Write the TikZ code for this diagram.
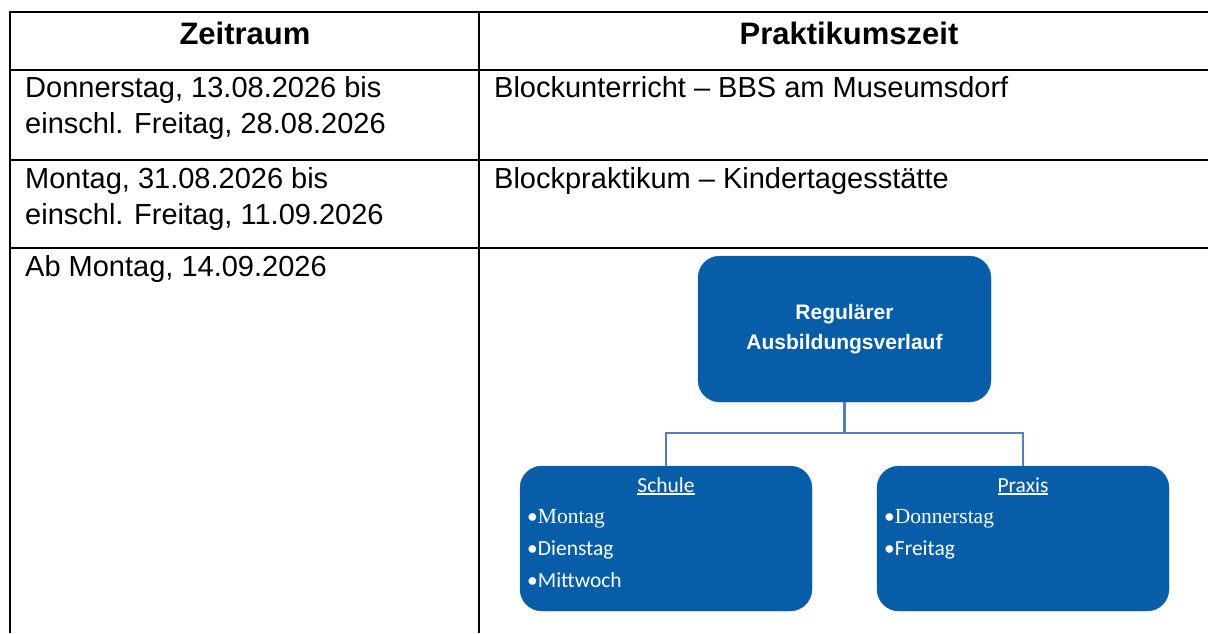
\documentclass[tikz,border=0pt]{standalone}
\usepackage{fontspec}
\setmainfont{Liberation Sans}
\newfontfamily\calibri{Carlito}
\newfontfamily\timesf{Liberation Serif}
\newsavebox{\ulwordbox}
\newcommand{\ulword}[1]{\sbox{\ulwordbox}{#1}\rlap{\rule[-2.8pt]{\wd\ulwordbox}{1.4pt}}\usebox{\ulwordbox}}
\definecolor{boxblue}{RGB}{7,93,168}
\definecolor{linkblue}{RGB}{84,128,182}
\tikzset{
  rule/.style={line width=2pt, black},
  headtext/.style={font=\fontsize{31}{36}\selectfont\bfseries, inner sep=0pt, anchor=base},
  tbltext/.style={font=\fontsize{29}{36}\selectfont, inner sep=0pt, anchor=base west},
  bluebox/.style={fill=boxblue, draw=boxblue, rounded corners=22pt, inner sep=0pt},
  toptext/.style={text=white, font=\fontsize{21}{30}\selectfont\bfseries, align=center},
  boxhead/.style={text=white, font=\calibri\fontsize{21.5}{26}\selectfont, inner sep=0pt, anchor=base},
  boxitem/.style={text=white, font=\calibri\fontsize{21.5}{26}\selectfont, inner sep=0pt, anchor=base west},
  link/.style={draw=linkblue, line width=2.5pt}
}
\begin{document}
\begin{tikzpicture}[x=1pt,y=-1pt]
\useasboundingbox (0,0) rectangle (1208,633);
% table rules
\draw[rule] (10,12) -- (1208,12);
\draw[rule] (10,70) -- (1208,70);
\draw[rule] (10,160) -- (1208,160);
\draw[rule] (10,248) -- (1208,248);
\draw[rule] (10,11) -- (10,633);
\draw[rule] (479,11) -- (479,633);
% header
\node[headtext] (h1) at (245,44) {Zeitraum};
\node[headtext] (h2) at (849,44) {Praktikumszeit};
% rows
\node[tbltext] (r1a) at (25,97) {Donnerstag, 13.08.2026 bis};
\node[tbltext] (r1b) at (25,133) {einschl. Freitag, 28.08.2026};
\node[tbltext] (r1c) at (494,97) {Blockunterricht – BBS am Museumsdorf};
\node[tbltext] (r2a) at (25,188) {Montag, 31.08.2026 bis};
\node[tbltext] (r2b) at (25,224) {einschl. Freitag, 11.09.2026};
\node[tbltext] (r2c) at (494,188) {Blockpraktikum – Kindertagesstätte};
\node[tbltext] (r3a) at (25,276) {Ab Montag, 14.09.2026};
% org chart
\node[bluebox, toptext, minimum width=293pt, minimum height=146pt] (top) at (844.5,329) {Regulärer\\Ausbildungsverlauf};
\node[bluebox, minimum width=292pt, minimum height=145pt] (schule) at (666,538.5) {};
\node[bluebox, minimum width=292pt, minimum height=145pt] (praxis) at (1023,538.5) {};
\coordinate (j) at (844.5,433);
\draw[link] (top.south) -- (j);
\draw[link] (j) -| (schule.north);
\draw[link] (j) -| (praxis.north);
% box texts
\node[boxhead] (sh) at (666,492) {\ulword{Schule}};
\node[boxitem] (s1) at (527,523) {•{\timesf Montag}};
\node[boxitem] (s2) at (527,555) {•Dienstag};
\node[boxitem] (s3) at (527,587) {•Mittwoch};
\node[boxhead] (ph) at (1023,492) {\ulword{Praxis}};
\node[boxitem] (p1) at (884,523) {•{\timesf Donnerstag}};
\node[boxitem] (p2) at (884,555) {•Freitag};
\end{tikzpicture}
\end{document}
